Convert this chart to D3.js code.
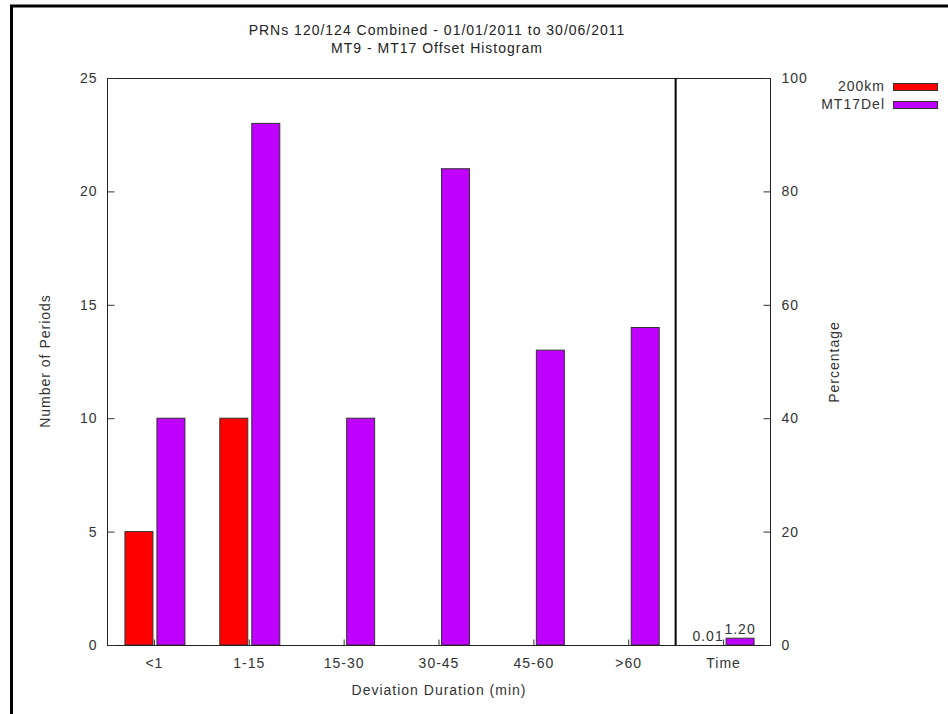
<!DOCTYPE html>
<html>
<head>
<meta charset="utf-8">
<script src="https://cdn.jsdelivr.net/npm/d3@7"></script>
<style>
  body { margin: 0; background: #fff; }
  svg { display: block; font-family: "Liberation Sans", Arial, sans-serif; }
  text { letter-spacing: 1px; }
</style>
</head>
<body>
<svg id="chart" width="948" height="714"></svg>
<script>
const categories = ["<1", "1-15", "15-30", "30-45", "45-60", ">60", "Time"];
const series200km = [5, 10, 0, 0, 0, 0];
const seriesMT17Del = [10, 23, 10, 21, 13, 14];
const timePercent200km = 0.01;
const timePercentMT17Del = 1.20;
const leftTicks = [0, 5, 10, 15, 20, 25];
const rightTicks = [0, 20, 40, 60, 80, 100];
const seriesNames = ["200km", "MT17Del"];
const seriesColors = ["#ff0000", "#bf00ff"];

const FS = 14;
const svg = d3.select("#chart");
const L = 107, R = 771, T = 78, B = 645;

// outer border (cropped frame)
svg.append("path").attr("d", "M11.5,714 L11.5,6 L948,6")
  .attr("fill", "none").attr("stroke", "#000").attr("stroke-width", 3);

const x = d3.scaleBand().domain(categories).range([L, R]).padding(0);
const yL = d3.scaleLinear().domain([0, 25]).range([B, T]);
const yR = d3.scaleLinear().domain([0, 100]).range([B, T]);

const barW = 28;
const offs = [-15.5, 16.5];

// bars
const mainData = [];
categories.slice(0, 6).forEach((c, i) => {
  mainData.push({cat: c, s: 0, v: series200km[i]});
  mainData.push({cat: c, s: 1, v: seriesMT17Del[i]});
});
svg.append("g").selectAll("rect").data(mainData.filter(d => d.v > 0)).join("rect")
  .attr("x", d => x(d.cat) + x.bandwidth() / 2 + offs[d.s] - barW / 2)
  .attr("y", d => yL(d.v))
  .attr("width", barW)
  .attr("height", d => yL(0) - yL(d.v))
  .attr("fill", d => seriesColors[d.s])
  .attr("stroke", "#333").attr("stroke-width", 1);

// time bars (right axis)
const timeData = [{s: 0, v: timePercent200km}, {s: 1, v: timePercentMT17Del}];
svg.append("g").selectAll("rect").data(timeData).join("rect")
  .attr("x", d => x("Time") + x.bandwidth() / 2 + offs[d.s] - barW / 2)
  .attr("y", d => yR(d.v))
  .attr("width", barW)
  .attr("height", d => Math.max(0, yR(0) - yR(d.v)))
  .attr("fill", d => seriesColors[d.s])
  .attr("stroke", "#333").attr("stroke-width", d => d.v < 0.5 ? 0 : 1);
svg.append("g").selectAll("text").data(timeData).join("text")
  .attr("x", d => x("Time") + x.bandwidth() / 2 + offs[d.s])
  .attr("y", d => yR(d.v) - 4)
  .attr("text-anchor", "middle").attr("font-size", FS).attr("fill", "#333")
  .text(d => d.v.toFixed(2));

// frame
svg.append("rect").attr("x", L + 0.5).attr("y", T + 0.5).attr("width", R - L - 1).attr("height", B - T)
  .attr("fill", "none").attr("stroke", "#222").attr("stroke-width", 1);

// divider
const divX = x("Time") - 0.5;
svg.append("line").attr("x1", divX).attr("x2", divX).attr("y1", T).attr("y2", B)
  .attr("stroke", "#000").attr("stroke-width", 2);

// left axis
const axL = d3.axisLeft(yL).tickValues(leftTicks).tickSize(-7).tickPadding(10);
const gL = svg.append("g").attr("transform", `translate(${L + 0.5},0)`).call(axL);
// right axis
const axR = d3.axisRight(yR).tickValues(rightTicks).tickSize(-7).tickPadding(11);
const gR = svg.append("g").attr("transform", `translate(${R - 0.5},0)`).call(axR);
// bottom axis
const axB = d3.axisBottom(x).tickSize(-6).tickPadding(13);
const gB = svg.append("g").attr("transform", `translate(0,${B + 0.5})`).call(axB);

[gL, gR, gB].forEach(g => {
  g.select(".domain").remove();
  g.selectAll(".tick line").attr("stroke", "#333");
  g.selectAll(".tick text").attr("font-size", FS).attr("fill", "#333")
    .attr("font-family", "'Liberation Sans', Arial, sans-serif");
});

// titles
svg.append("text").attr("x", 437).attr("y", 35).attr("text-anchor", "middle")
  .attr("font-size", FS).attr("fill", "#222").text("PRNs 120/124 Combined - 01/01/2011 to 30/06/2011");
svg.append("text").attr("x", 437).attr("y", 53).attr("text-anchor", "middle")
  .attr("font-size", FS).attr("fill", "#222").text("MT9 - MT17 Offset Histogram");
svg.append("text").attr("transform", "translate(50,361) rotate(-90)").attr("text-anchor", "middle")
  .attr("font-size", FS).attr("fill", "#333").text("Number of Periods");
svg.append("text").attr("transform", "translate(839,362) rotate(-90)").attr("text-anchor", "middle")
  .attr("font-size", FS).attr("fill", "#333").text("Percentage");
svg.append("text").attr("x", 439).attr("y", 695).attr("text-anchor", "middle")
  .attr("font-size", FS).attr("fill", "#333").text("Deviation Duration (min)");

// legend
const lg = svg.append("g").selectAll("g").data(seriesNames).join("g")
  .attr("transform", (d, i) => `translate(0,${86 + i * 18})`);
lg.append("text").attr("x", 885).attr("y", 5).attr("text-anchor", "end")
  .attr("font-size", FS).attr("fill", "#333").text(d => d);
lg.append("rect").attr("x", 893.5).attr("y", -2.5).attr("width", 44).attr("height", 7)
  .attr("fill", (d, i) => seriesColors[i]).attr("stroke", "#333").attr("stroke-width", 1);
</script>
</body>
</html>
